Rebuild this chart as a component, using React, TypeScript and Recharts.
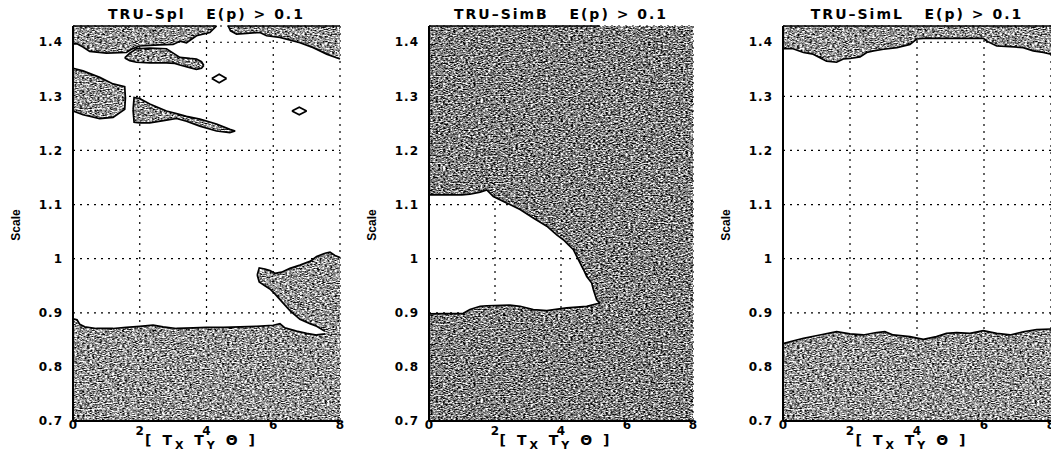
import { ComposedChart, Area, XAxis, YAxis, CartesianGrid } from "recharts";

const xTicks = [0, 2, 4, 6, 8];
const yTicks = [0.7, 0.8, 0.9, 1, 1.1, 1.2, 1.3, 1.4];
const yDomain = [0.7, 1.43];

// rows are [x, lower, upper] of a shaded strip
const splTopLeft = [
  [0, 1.397, 1.43], [0.12, 1.397, 1.43], [0.3, 1.391, 1.43], [0.5, 1.383, 1.43],
  [1.0, 1.38, 1.43], [1.6, 1.381, 1.43], [1.75, 1.387, 1.43], [2.0, 1.393, 1.43],
  [2.6, 1.395, 1.43], [3.0, 1.396, 1.43], [3.2, 1.402, 1.43], [3.4, 1.399, 1.43],
  [3.7, 1.412, 1.43], [4.1, 1.418, 1.43], [4.3, 1.43, 1.43],
];
const splTopRight = [
  [4.65, 1.43, 1.43], [4.72, 1.421, 1.43], [4.9, 1.415, 1.43], [5.3, 1.417, 1.43],
  [5.6, 1.418, 1.43], [5.8, 1.412, 1.43], [6.2, 1.409, 1.43], [6.8, 1.399, 1.43],
  [7.2, 1.39, 1.43], [7.6, 1.378, 1.43], [8, 1.369, 1.43],
];
const splIslandA = [
  [1.55, 1.371, 1.371], [1.7, 1.366, 1.38], [1.9, 1.363, 1.388], [2.3, 1.362, 1.389],
  [2.8, 1.362, 1.388], [3.05, 1.361, 1.378], [3.2, 1.358, 1.372], [3.5, 1.353, 1.37],
  [3.7, 1.35, 1.369], [3.85, 1.352, 1.364], [3.92, 1.357, 1.357],
];
const splIslandB = [
  [0, 1.273, 1.352], [0.3, 1.266, 1.347], [0.8, 1.259, 1.335], [1.2, 1.261, 1.323],
  [1.55, 1.276, 1.318], [1.57, 1.297, 1.297],
];
const splIslandC = [
  [1.8, 1.275, 1.275], [1.83, 1.252, 1.298], [2.0, 1.251, 1.296], [2.3, 1.251, 1.286],
  [2.8, 1.256, 1.273], [3.1, 1.259, 1.268], [3.4, 1.254, 1.263], [3.8, 1.245, 1.258],
  [4.3, 1.236, 1.249], [4.7, 1.233, 1.239], [4.86, 1.236, 1.236],
];
const splDiamondA = [[4.16, 1.333, 1.333], [4.38, 1.325, 1.341], [4.6, 1.333, 1.333]];
const splDiamondB = [[6.56, 1.273, 1.273], [6.78, 1.266, 1.28], [7.0, 1.273, 1.273]];
const splBand = [
  [0, 0.7, 0.889], [0.12, 0.7, 0.887], [0.2, 0.7, 0.879], [0.35, 0.7, 0.874],
  [0.7, 0.7, 0.871], [1.2, 0.7, 0.871], [1.6, 0.7, 0.873], [2.0, 0.7, 0.875],
  [2.4, 0.7, 0.877], [2.7, 0.7, 0.874], [3.1, 0.7, 0.871], [3.6, 0.7, 0.872],
  [4.0, 0.7, 0.873], [4.5, 0.7, 0.873], [5.0, 0.7, 0.874], [5.5, 0.7, 0.875],
  [6.0, 0.7, 0.877], [6.2, 0.7, 0.88], [6.35, 0.7, 0.872], [6.7, 0.7, 0.866],
  [7.0, 0.7, 0.862], [7.3, 0.7, 0.859], [7.56, 0.7, 0.861],
];
const splBlob = [
  [5.52, 0.97, 0.97], [5.58, 0.957, 0.983], [5.75, 0.95, 0.981], [5.9, 0.944, 0.978],
  [6.05, 0.935, 0.973], [6.25, 0.921, 0.975], [6.5, 0.904, 0.982], [6.8, 0.888, 0.988],
  [7.1, 0.88, 0.995], [7.3, 0.875, 1.004], [7.55, 0.866, 1.01],
];
const splRight = [[7.55, 0.7, 1.01], [7.7, 0.7, 1.012], [7.85, 0.7, 1.006], [8, 0.7, 1.002]];

const simbUpper = [
  [0, 1.118, 1.43], [1.0, 1.118, 1.43], [1.24, 1.119, 1.43], [1.55, 1.123, 1.43],
  [1.75, 1.127, 1.43], [1.95, 1.115, 1.43], [2.35, 1.103, 1.43], [2.76, 1.091, 1.43],
  [3.16, 1.075, 1.43], [3.57, 1.06, 1.43], [3.87, 1.044, 1.43], [4.07, 1.035, 1.43],
  [4.22, 1.026, 1.43], [4.37, 1.017, 1.43], [4.48, 1.004, 1.43], [4.58, 0.992, 1.43],
  [4.68, 0.98, 1.43], [4.78, 0.967, 1.43], [4.93, 0.955, 1.43], [4.98, 0.943, 1.43],
  [5.08, 0.924, 1.43], [5.18, 0.918, 1.43],
];
const simbLower = [
  [0, 0.7, 0.898], [1.04, 0.7, 0.899], [1.24, 0.7, 0.906], [1.55, 0.7, 0.912],
  [1.75, 0.7, 0.913], [2.45, 0.7, 0.914], [2.76, 0.7, 0.912], [3.16, 0.7, 0.906],
  [3.57, 0.7, 0.904], [4.17, 0.7, 0.909], [4.78, 0.7, 0.912], [5.18, 0.7, 0.918],
];
const simbRight = [[5.14, 0.7, 1.43], [8, 0.7, 1.43]];

const simlTop = [
  [0, 1.388, 1.43], [0.3, 1.388, 1.43], [0.61, 1.381, 1.43], [0.9, 1.378, 1.43],
  [1.3, 1.365, 1.43], [1.6, 1.363, 1.43], [1.8, 1.369, 1.43], [2.0, 1.37, 1.43],
  [2.3, 1.373, 1.43], [2.5, 1.381, 1.43], [2.7, 1.384, 1.43], [3.0, 1.387, 1.43],
  [3.4, 1.39, 1.43], [3.79, 1.396, 1.43], [3.99, 1.406, 1.43], [4.19, 1.407, 1.43],
  [5.0, 1.407, 1.43], [5.98, 1.407, 1.43], [6.08, 1.402, 1.43], [6.38, 1.393, 1.43],
  [6.78, 1.392, 1.43], [7.17, 1.39, 1.43], [7.47, 1.384, 1.43], [7.77, 1.381, 1.43],
  [8, 1.378, 1.43],
];
const simlBottom = [
  [0, 0.7, 0.843], [0.61, 0.7, 0.853], [1.1, 0.7, 0.859], [1.6, 0.7, 0.865],
  [2.0, 0.7, 0.861], [2.4, 0.7, 0.859], [2.79, 0.7, 0.8635], [3.04, 0.7, 0.865],
  [3.29, 0.7, 0.859], [3.79, 0.7, 0.856], [4.19, 0.7, 0.851], [4.58, 0.7, 0.856],
  [4.88, 0.7, 0.862], [5.18, 0.7, 0.8635], [5.58, 0.7, 0.862], [5.98, 0.7, 0.867],
  [6.38, 0.7, 0.862], [6.78, 0.7, 0.859], [7.17, 0.7, 0.865], [7.57, 0.7, 0.869],
  [8, 0.7, 0.87],
];

type Region = { rows: number[][]; fill: string; stroke?: string };

const toPoints = (rows: number[][]) => rows.map(([x, lo, hi]) => ({ x, band: [lo, hi] }));

const font = "'DejaVu Sans', 'Liberation Sans', sans-serif";

const XTick = (props: any) => {
  const { x, y, payload } = props;
  const low = payload.value === 2 || payload.value === 4;
  return (
    <text x={x} y={y + (low ? 14 : 8)} textAnchor="middle" fill="#000"
      style={{ fontFamily: font, fontSize: 12, fontWeight: 700 }}>
      {payload.value}
    </text>
  );
};

const Panel = ({ left, plotWidth, title, regions }: { left: number; plotWidth: number; title: string; regions: Region[] }) => {
  const width = 356;
  const plotLeft = 73;
  const center = plotLeft + plotWidth / 2;
  return (
    <div style={{ position: "absolute", left, top: 0, width, height: 454 }}>
      <div style={{ position: "absolute", left: plotLeft, width: plotWidth, top: 6, textAlign: "center",
        fontFamily: font, fontWeight: 700, fontSize: 14, lineHeight: "16px", letterSpacing: 2, whiteSpace: "pre" }}>
        {title}
      </div>
      <div style={{ position: "absolute", left: 16 - 30, top: 218, width: 60, textAlign: "center",
        transform: "rotate(-90deg)", fontFamily: "'Liberation Sans Narrow', 'Liberation Sans', sans-serif",
        fontSize: 12, fontWeight: 700, lineHeight: "14px" }}>
        Scale
      </div>
      <div style={{ position: "absolute", left: center - 85, width: 160, top: 432, textAlign: "center",
        fontFamily: font, fontWeight: 700, fontSize: 14, lineHeight: "16px", letterSpacing: 3, whiteSpace: "pre" }}>
        [ T<sub style={{ fontSize: 11 }}>X</sub> T<sub style={{ fontSize: 11 }}>Y</sub> Θ ]
      </div>
      <ComposedChart width={width} height={454}
        margin={{ top: 26, right: width - plotLeft - plotWidth, bottom: 0, left: 0 }}>
        <CartesianGrid stroke="#000" strokeDasharray="2 5" strokeWidth={1.2} />
        {regions.map((r, i) => (
          <Area key={i} data={toPoints(r.rows)} dataKey="band" type="linear"
            fill={r.fill} fillOpacity={1} stroke={r.stroke ?? "#000"} strokeWidth={1.7}
            dot={false} activeDot={false} isAnimationActive={false} />
        ))}
        <XAxis dataKey="x" type="number" domain={[0, 8]} ticks={xTicks} interval={0} height={33}
          axisLine={{ stroke: "#000", strokeWidth: 2 }} tickLine={false} tickSize={0} tickMargin={0} tick={XTick} />
        <YAxis type="number" domain={yDomain} ticks={yTicks} interval={0} width={plotLeft}
          axisLine={{ stroke: "#000", strokeWidth: 2 }} tickLine={false} tickSize={0} tickMargin={10}
          tick={{ fill: "#000", fontFamily: font, fontSize: 12, fontWeight: 700, letterSpacing: 1 }} />
        <XAxis xAxisId="top" orientation="top" type="number" domain={[0, 8]} height={0} tick={false}
          tickLine={false} axisLine={{ stroke: "#000", strokeWidth: 2 }} />
        <YAxis yAxisId="right" orientation="right" type="number" domain={yDomain} width={0} tick={false}
          tickLine={false} axisLine={{ stroke: "#000", strokeWidth: 2 }} />
      </ComposedChart>
    </div>
  );
};

const light = "url(#grainLight)";
const dark = "url(#grainDark)";

export default function App() {
  return (
    <div style={{ position: "absolute", left: 0, top: 0, width: 1051, height: 454, overflow: "hidden", background: "#fff" }}>
      <svg width={0} height={0} style={{ position: "absolute" }}>
        <defs>
          <filter id="noiseLight" x="0" y="0" width="1" height="1" colorInterpolationFilters="sRGB">
            <feTurbulence type="fractalNoise" baseFrequency="0.4 0.85" numOctaves={2} seed={4} />
            <feColorMatrix type="matrix" values="2.2 0 0 0 -0.52  2.2 0 0 0 -0.52  2.2 0 0 0 -0.52  0 0 0 0 1" />
          </filter>
          <filter id="noiseDark" x="0" y="0" width="1" height="1" colorInterpolationFilters="sRGB">
            <feTurbulence type="fractalNoise" baseFrequency="0.4 0.85" numOctaves={2} seed={9} />
            <feColorMatrix type="matrix" values="2.2 0 0 0 -0.6  2.2 0 0 0 -0.6  2.2 0 0 0 -0.6  0 0 0 0 1" />
          </filter>
          <pattern id="grainLight" patternUnits="userSpaceOnUse" width={300} height={300}>
            <rect width={300} height={300} filter="url(#noiseLight)" />
          </pattern>
          <pattern id="grainDark" patternUnits="userSpaceOnUse" width={300} height={300}>
            <rect width={300} height={300} filter="url(#noiseDark)" />
          </pattern>
        </defs>
      </svg>
      <Panel left={0} plotWidth={267} title="TRU–Spl   E(p) > 0.1" regions={[
        { rows: splTopLeft, fill: light }, { rows: splTopRight, fill: light },
        { rows: splIslandA, fill: light }, { rows: splIslandB, fill: light },
        { rows: splIslandC, fill: light }, { rows: splDiamondA, fill: "none" },
        { rows: splDiamondB, fill: "none" }, { rows: splRight, fill: light },
        { rows: splBand, fill: light }, { rows: splBlob, fill: light },
      ]} />
      <Panel left={356} plotWidth={264} title="TRU–SimB   E(p) > 0.1" regions={[
        { rows: simbRight, fill: dark, stroke: "none" },
        { rows: simbUpper, fill: dark }, { rows: simbLower, fill: dark },
      ]} />
      <Panel left={710} plotWidth={268} title="TRU–SimL   E(p) > 0.1" regions={[
        { rows: simlTop, fill: light }, { rows: simlBottom, fill: light },
      ]} />
    </div>
  );
}
